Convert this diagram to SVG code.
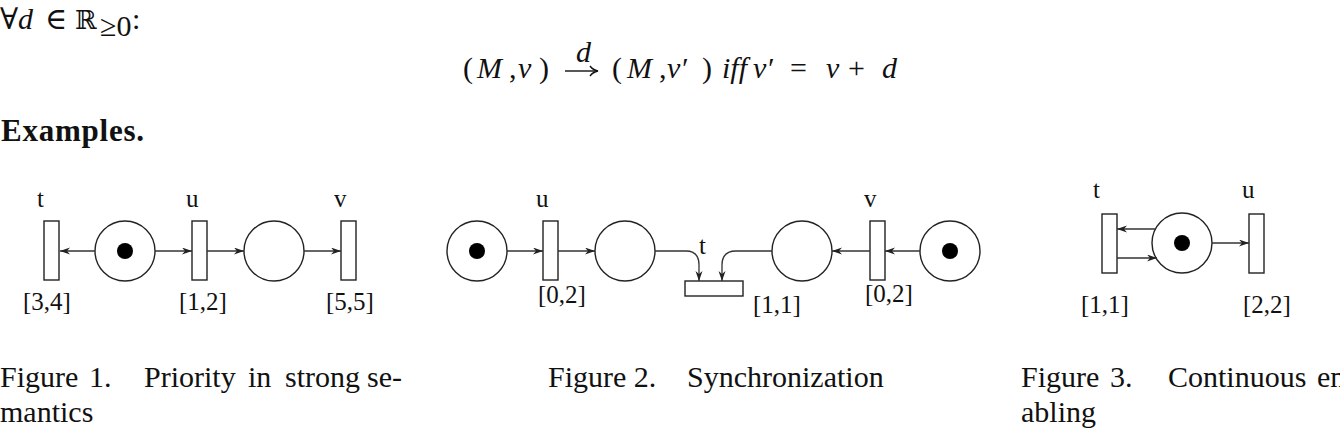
<svg xmlns="http://www.w3.org/2000/svg" width="1340" height="448" viewBox="0 0 1340 448">
<style>
.tr{fill:#fff;stroke:#222;stroke-width:1.4}
.pl{fill:#fff;stroke:#222;stroke-width:1.4}
.tok{fill:#000}
.arc{fill:none;stroke:#333;stroke-width:1.3}
.lbl{font-family:"Liberation Serif","Times New Roman",serif;font-size:25px;fill:#111}
.cap{font-family:"Liberation Serif","Times New Roman",serif;font-size:30px;fill:#111}
.m{font-family:"Liberation Serif","DejaVu Serif",serif;font-size:30px;fill:#111}
.mi{font-style:italic}
</style>
<defs>
<marker id="ah" markerUnits="userSpaceOnUse" markerWidth="12" markerHeight="8" refX="10" refY="3.5" orient="auto">
<path d="M0,0 L10,3.5 L0,7 L3,3.5 Z" fill="#222"/>
</marker>
</defs>

<g id="formula">
<text class="m" y="29"><tspan x="0">∀</tspan><tspan x="18" class="mi">d</tspan><tspan x="45">∈</tspan><tspan x="75" font-family="DejaVu Serif" font-size="26">ℝ</tspan></text>
<text class="m" x="100" y="36" font-size="21">≥0</text>
<text class="m" x="132" y="29">:</text>
<text class="m" y="78"><tspan x="463">(</tspan><tspan x="509">,</tspan><tspan x="518" class="mi">ν</tspan><tspan x="539">)</tspan><tspan x="612">(</tspan><tspan x="659">,</tspan><tspan x="667" class="mi">ν′</tspan><tspan x="702">)</tspan><tspan x="722" class="mi">iff</tspan><tspan x="753" class="mi">ν′</tspan><tspan x="790">=</tspan><tspan x="826" class="mi">ν</tspan><tspan x="848">+</tspan><tspan x="882" class="mi">d</tspan></text>
<text class="m mi" x="477" y="78" font-size="33">M</text>
<text class="m mi" x="627" y="78" font-size="33">M</text>
<line x1="565" y1="71" x2="597" y2="71" stroke="#111" stroke-width="1.4"/>
<path d="M590,66 Q593,70 598,71 Q593,72 590,76" fill="none" stroke="#111" stroke-width="1.4"/>
<text class="m mi" x="576" y="62" font-size="18">d</text>
</g>

<g id="heading">
<text x="1" y="141" font-family="Liberation Serif,'Times New Roman',serif" font-size="31" font-weight="bold" fill="#111" textLength="143">Examples.</text>
</g>

<!-- Figure 1 -->
<g id="f1-t"><rect class="tr" x="44" y="221" width="15" height="59"/><text class="lbl" x="37" y="207">t</text><text class="lbl" x="23" y="310">[3,4]</text></g>
<g id="f1-p1"><circle class="pl" cx="125" cy="251" r="30"/><circle class="tok" cx="125" cy="251" r="8"/></g>
<g id="f1-u"><rect class="tr" x="192" y="221" width="15" height="59"/><text class="lbl" x="186" y="207">u</text><text class="lbl" x="179" y="310">[1,2]</text></g>
<g id="f1-p2"><circle class="pl" cx="274" cy="251" r="30"/></g>
<g id="f1-v"><rect class="tr" x="341" y="221" width="15" height="59"/><text class="lbl" x="334" y="207">v</text><text class="lbl" x="326" y="310">[5,5]</text></g>

<!-- Figure 2 -->
<g id="f2-p1"><circle class="pl" cx="477" cy="251" r="30"/><circle class="tok" cx="477" cy="251" r="8"/></g>
<g id="f2-u"><rect class="tr" x="543" y="221" width="15" height="59"/><text class="lbl" x="536" y="207">u</text><text class="lbl" x="538" y="303">[0,2]</text></g>
<g id="f2-p2"><circle class="pl" cx="625" cy="251" r="30"/></g>
<g id="f2-t"><rect class="tr" x="685" y="281" width="58" height="15"/><text class="lbl" x="699" y="254">t</text><text class="lbl" x="753" y="313">[1,1]</text></g>
<g id="f2-p3"><circle class="pl" cx="802" cy="251" r="30"/></g>
<g id="f2-v"><rect class="tr" x="870" y="221" width="15" height="59"/><text class="lbl" x="864" y="207">v</text><text class="lbl" x="865" y="302">[0,2]</text></g>
<g id="f2-p4"><circle class="pl" cx="950" cy="251" r="30"/><circle class="tok" cx="950" cy="251" r="8"/></g>

<!-- Figure 3 -->
<g id="f3-t"><rect class="tr" x="1102" y="214" width="15" height="59"/><text class="lbl" x="1093" y="198">t</text><text class="lbl" x="1081" y="313">[1,1]</text></g>
<g id="f3-p"><circle class="pl" cx="1182" cy="243" r="30"/><circle class="tok" cx="1182" cy="243" r="8"/></g>
<g id="f3-u"><rect class="tr" x="1249" y="214" width="15" height="59"/><text class="lbl" x="1242" y="198">u</text><text class="lbl" x="1243" y="313">[2,2]</text></g>

<g id="connectors">
<line class="arc" x1="95" y1="251" x2="60" y2="251" marker-end="url(#ah)"/>
<line class="arc" x1="155" y1="251" x2="192" y2="251" marker-end="url(#ah)"/>
<line class="arc" x1="207" y1="251" x2="244" y2="251" marker-end="url(#ah)"/>
<line class="arc" x1="304" y1="251" x2="341" y2="251" marker-end="url(#ah)"/>

<line class="arc" x1="507" y1="251" x2="543" y2="251" marker-end="url(#ah)"/>
<line class="arc" x1="558" y1="251" x2="595" y2="251" marker-end="url(#ah)"/>
<path class="arc" d="M655,251 L686,251 Q699,251 699,265 L699,281" marker-end="url(#ah)"/>
<path class="arc" d="M772,251 L736,251 Q722,251 722,265 L722,281" marker-end="url(#ah)"/>
<line class="arc" x1="870" y1="251" x2="832" y2="251" marker-end="url(#ah)"/>
<line class="arc" x1="920" y1="251" x2="885" y2="251" marker-end="url(#ah)"/>

<line class="arc" x1="1156" y1="229" x2="1117" y2="229" marker-end="url(#ah)"/>
<line class="arc" x1="1117" y1="258" x2="1157" y2="258" marker-end="url(#ah)"/>
<line class="arc" x1="1212" y1="243" x2="1249" y2="243" marker-end="url(#ah)"/>
</g>

<g id="captions">
<text class="cap" y="387"><tspan x="0">Figure</tspan><tspan x="89">1.</tspan><tspan x="144">Priority</tspan><tspan x="248">in</tspan><tspan x="285">strong</tspan><tspan x="367">se-</tspan></text>
<text class="cap" x="0" y="422">mantics</text>
<text class="cap" y="387"><tspan x="548">Figure 2.</tspan><tspan x="687">Synchronization</tspan></text>
<text class="cap" y="387"><tspan x="1021">Figure</tspan><tspan x="1110">3.</tspan><tspan x="1168">Continuous</tspan><tspan x="1317">en</tspan></text>
<text class="cap" x="1021" y="422">abling</text>
</g>
</svg>
